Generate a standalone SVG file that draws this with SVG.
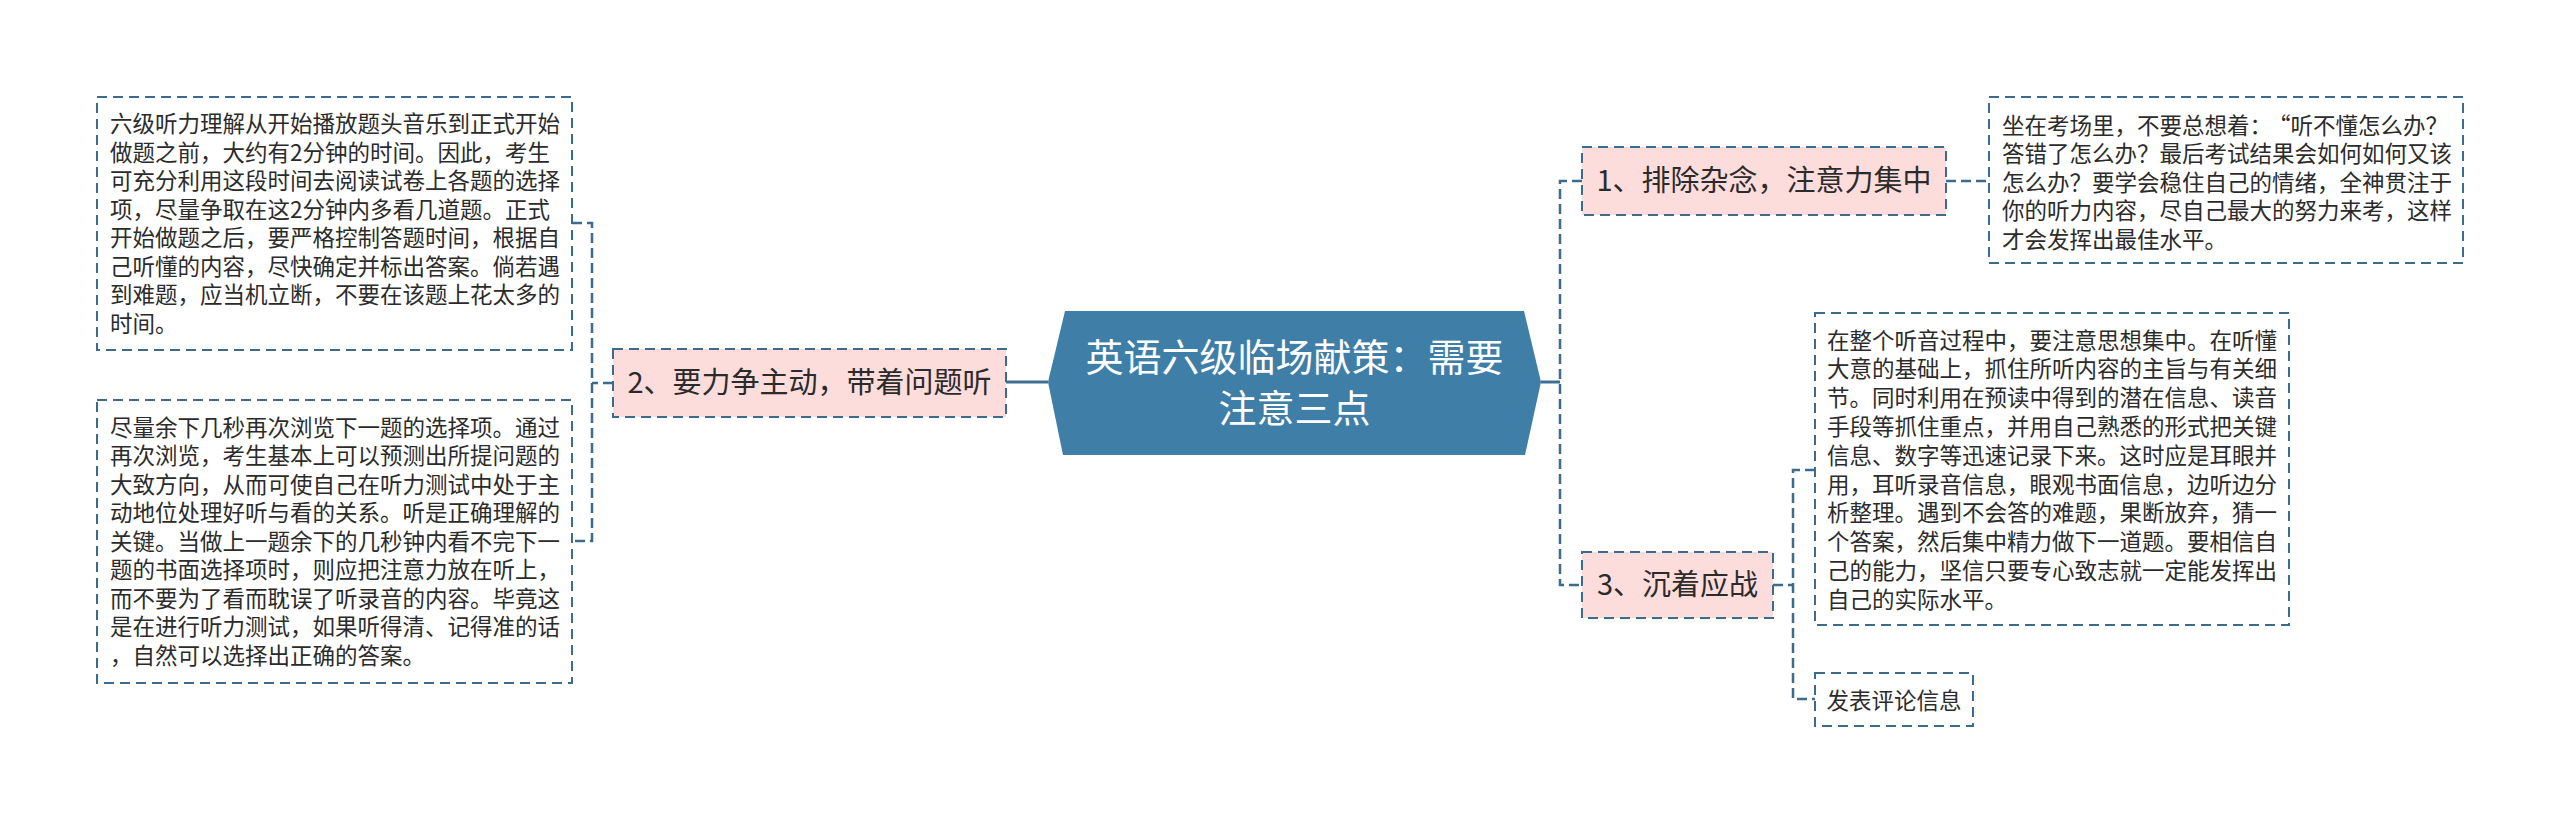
<svg xmlns="http://www.w3.org/2000/svg" width="2560" height="823" viewBox="0 0 2560 823">
<style>
.t{font-family:"Noto Sans CJK SC","Noto Sans",sans-serif;fill:#2b2b2b;}
.s{font-size:22.5px;}
.m{font-size:29px;text-anchor:middle;}
.c{font-family:"Noto Sans CJK SC","Noto Sans",sans-serif;font-size:38px;fill:#ffffff;text-anchor:middle;}
.box{fill:#ffffff;stroke:#3b6c8e;stroke-width:2;stroke-dasharray:10 6;}
.pink{fill:#fddcdc;stroke:#3b6c8e;stroke-width:2;stroke-dasharray:10 6;}
.dl{fill:none;stroke:#3b6c8e;stroke-width:2.5;stroke-dasharray:10 5;}
.sl{fill:none;stroke:#3d6f92;stroke-width:3;}
</style>
<rect width="2560" height="823" fill="#ffffff"/>
<g id="connectors">
<path class="sl" d="M1541 382 H1560"/>
<path class="dl" d="M1582 181 H1560 V585 H1582"/>
<path class="dl" d="M1946 181 H1989"/>
<path class="dl" d="M1773 585 H1793"/>
<path class="dl" d="M1815 470 H1793 V699 H1815"/>
<path class="sl" d="M1048 382 H1006"/>
<path class="dl" d="M613 383 H592"/>
<path class="dl" d="M572 223 H592 V541 H572"/>
</g>
<g id="root">
<polygon points="1048,382 1065,311 1524,311 1541,382 1525,455 1063,455" fill="#3e7ea7"/>
<text class="c" x="1294.5" y="371">英语六级临场献策：需要</text>
<text class="c" x="1294.5" y="422">注意三点</text>
</g>
<g id="node1">
<rect class="pink" x="1582" y="147" width="364" height="68"/>
<text class="t m" x="1764" y="191">1、排除杂念，注意力集中</text>
</g>
<g id="node1-detail">
<rect class="box" x="1989" y="97" width="474" height="166"/>
<text class="t s" x="2002" y="133.5">坐在考场里，不要总想着：<tspan x="2268">“听不懂怎么办？</tspan></text>
<text class="t s" x="2002" y="162">答错了怎么办？最后考试结果会如何如何又该</text>
<text class="t s" x="2002" y="190.5">怎么办？要学会稳住自己的情绪，全神贯注于</text>
<text class="t s" x="2002" y="219">你的听力内容，尽自己最大的努力来考，这样</text>
<text class="t s" x="2002" y="247.5">才会发挥出最佳水平。</text>
</g>
<g id="node3">
<rect class="pink" x="1582" y="552" width="191" height="66"/>
<text class="t m" x="1677.5" y="595">3、沉着应战</text>
</g>
<g id="node3-detail">
<rect class="box" x="1815" y="313" width="474" height="312"/>
<text class="t s" x="1827" y="348.5">在整个听音过程中，要注意思想集中。在听懂</text>
<text class="t s" x="1827" y="377.3">大意的基础上，抓住所听内容的主旨与有关细</text>
<text class="t s" x="1827" y="406.1">节。同时利用在预读中得到的潜在信息、读音</text>
<text class="t s" x="1827" y="434.9">手段等抓住重点，并用自己熟悉的形式把关键</text>
<text class="t s" x="1827" y="463.7">信息、数字等迅速记录下来。这时应是耳眼并</text>
<text class="t s" x="1827" y="492.5">用，耳听录音信息，眼观书面信息，边听边分</text>
<text class="t s" x="1827" y="521.3">析整理。遇到不会答的难题，果断放弃，猜一</text>
<text class="t s" x="1827" y="550.1">个答案，然后集中精力做下一道题。要相信自</text>
<text class="t s" x="1827" y="578.9">己的能力，坚信只要专心致志就一定能发挥出</text>
<text class="t s" x="1827" y="607.7">自己的实际水平。</text>
</g>
<g id="comment">
<rect class="box" x="1815" y="673" width="158" height="53"/>
<text class="t s" x="1894" y="708.5" text-anchor="middle">发表评论信息</text>
</g>
<g id="node2">
<rect class="pink" x="613" y="349" width="393" height="68"/>
<text class="t m" x="809.5" y="393">2、要力争主动，带着问题听</text>
</g>
<g id="node2-detail1">
<rect class="box" x="97" y="97" width="475" height="253"/>
<text class="t s" x="110" y="132">六级听力理解从开始播放题头音乐到正式开始</text>
<text class="t s" x="110" y="160.5">做题之前，大约有2分钟的时间。因此，考生</text>
<text class="t s" x="110" y="189">可充分利用这段时间去阅读试卷上各题的选择</text>
<text class="t s" x="110" y="217.5">项，尽量争取在这2分钟内多看几道题。正式</text>
<text class="t s" x="110" y="246">开始做题之后，要严格控制答题时间，根据自</text>
<text class="t s" x="110" y="274.5">己听懂的内容，尽快确定并标出答案。倘若遇</text>
<text class="t s" x="110" y="303">到难题，应当机立断，不要在该题上花太多的</text>
<text class="t s" x="110" y="331.5">时间。</text>
</g>
<g id="node2-detail2">
<rect class="box" x="97" y="400" width="475" height="283"/>
<text class="t s" x="110" y="435.5">尽量余下几秒再次浏览下一题的选择项。通过</text>
<text class="t s" x="110" y="464">再次浏览，考生基本上可以预测出所提问题的</text>
<text class="t s" x="110" y="492.5">大致方向，从而可使自己在听力测试中处于主</text>
<text class="t s" x="110" y="521">动地位处理好听与看的关系。听是正确理解的</text>
<text class="t s" x="110" y="549.5">关键。当做上一题余下的几秒钟内看不完下一</text>
<text class="t s" x="110" y="578">题的书面选择项时，则应把注意力放在听上，</text>
<text class="t s" x="110" y="606.5">而不要为了看而耽误了听录音的内容。毕竟这</text>
<text class="t s" x="110" y="635">是在进行听力测试，如果听得清、记得准的话</text>
<text class="t s" x="110" y="663.5">，自然可以选择出正确的答案。</text>
</g>
</svg>
